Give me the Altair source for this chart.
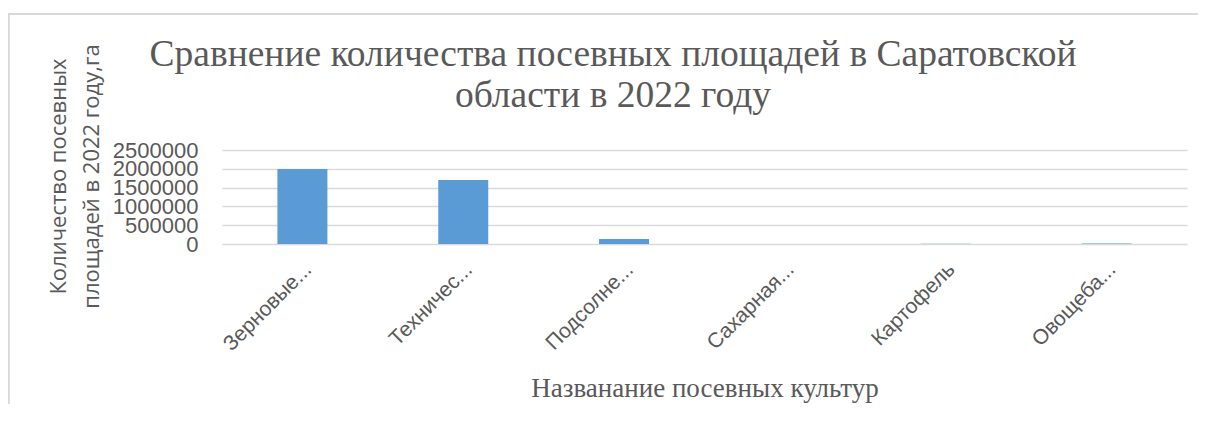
import altair as alt
import pandas as pd

categories = ["Зерновые...", "Техничес...", "Подсолне...", "Сахарная...", "Картофель", "Овощеба..."]
values = [1995000, 1700000, 135000, 1500, 7000, 13000]
y_ticks = [0, 500000, 1000000, 1500000, 2000000, 2500000]
title_lines = ["Сравнение количества посевных площадей в Саратовской", "области в 2022 году"]

df = pd.DataFrame({"cat": categories, "val": values})
title_df = pd.DataFrame({"t": ["\n".join(title_lines)]})

TEXT = "#595959"
GRID = "#D9D9D9"

bars = alt.Chart(df).mark_bar(size=50, color="#5B9BD5").encode(
    x=alt.X("cat:N", sort=categories,
            axis=alt.Axis(title="Названание посевных культур", labelAngle=-45,
                          labelAlign="right", labelBaseline="middle",
                          labelFont="Liberation Sans", labelFontSize=21, labelColor=TEXT,
                          labelPadding=22, labelOffset=6, ticks=False, domain=False,
                          labelLimit=0, labelOverlap=False,
                          titleFont="Liberation Serif", titleFontSize=27, titleColor=TEXT,
                          titleFontWeight="normal", titleBaseline="alphabetic",
                          titleY=152)),
    y=alt.Y("val:Q", scale=alt.Scale(domain=[0, 2500000], nice=False),
            axis=alt.Axis(title=["Количество посевных", "площадей в 2022 году,га"],
                          values=y_ticks, format="d", grid=True, gridColor=GRID,
                          gridWidth=1.5, ticks=False, domain=False, labelOverlap=False,
                          labelFont="Liberation Sans", labelFontSize=22, labelColor=TEXT,
                          labelPadding=24,
                          titleFont="Open Sans", titleFontSize=22, titleColor=TEXT,
                          titleFontWeight="normal", titleAngle=270, titleAlign="center",
                          titleBaseline="top", titleLineHeight=33,
                          titleX=-174, titleY=26)),
)

frame = alt.Chart(df).mark_rect(fill=None, stroke=GRID, strokeWidth=1.5, clip=False).encode(
    x=alt.value(-213.5), x2=alt.value(1000), y=alt.value(-136), y2=alt.value(400)
)

title = alt.Chart(title_df).mark_text(
    font="Liberation Serif", fontSize=37.5, color=TEXT, align="center",
    baseline="alphabetic", lineBreak="\n", lineHeight=41, clip=False
).encode(text="t:N", x=alt.value(391), y=alt.value(-84))

chart = alt.layer(frame, bars, title).properties(
    width=965, height=94,
    autosize=alt.AutoSizeParams(type="none"),
    padding={"left": 214, "top": 142, "right": 11, "bottom": 160},
).configure_view(stroke=None)

chart.save("out.html", embed_options={"renderer": "svg", "actions": False})
